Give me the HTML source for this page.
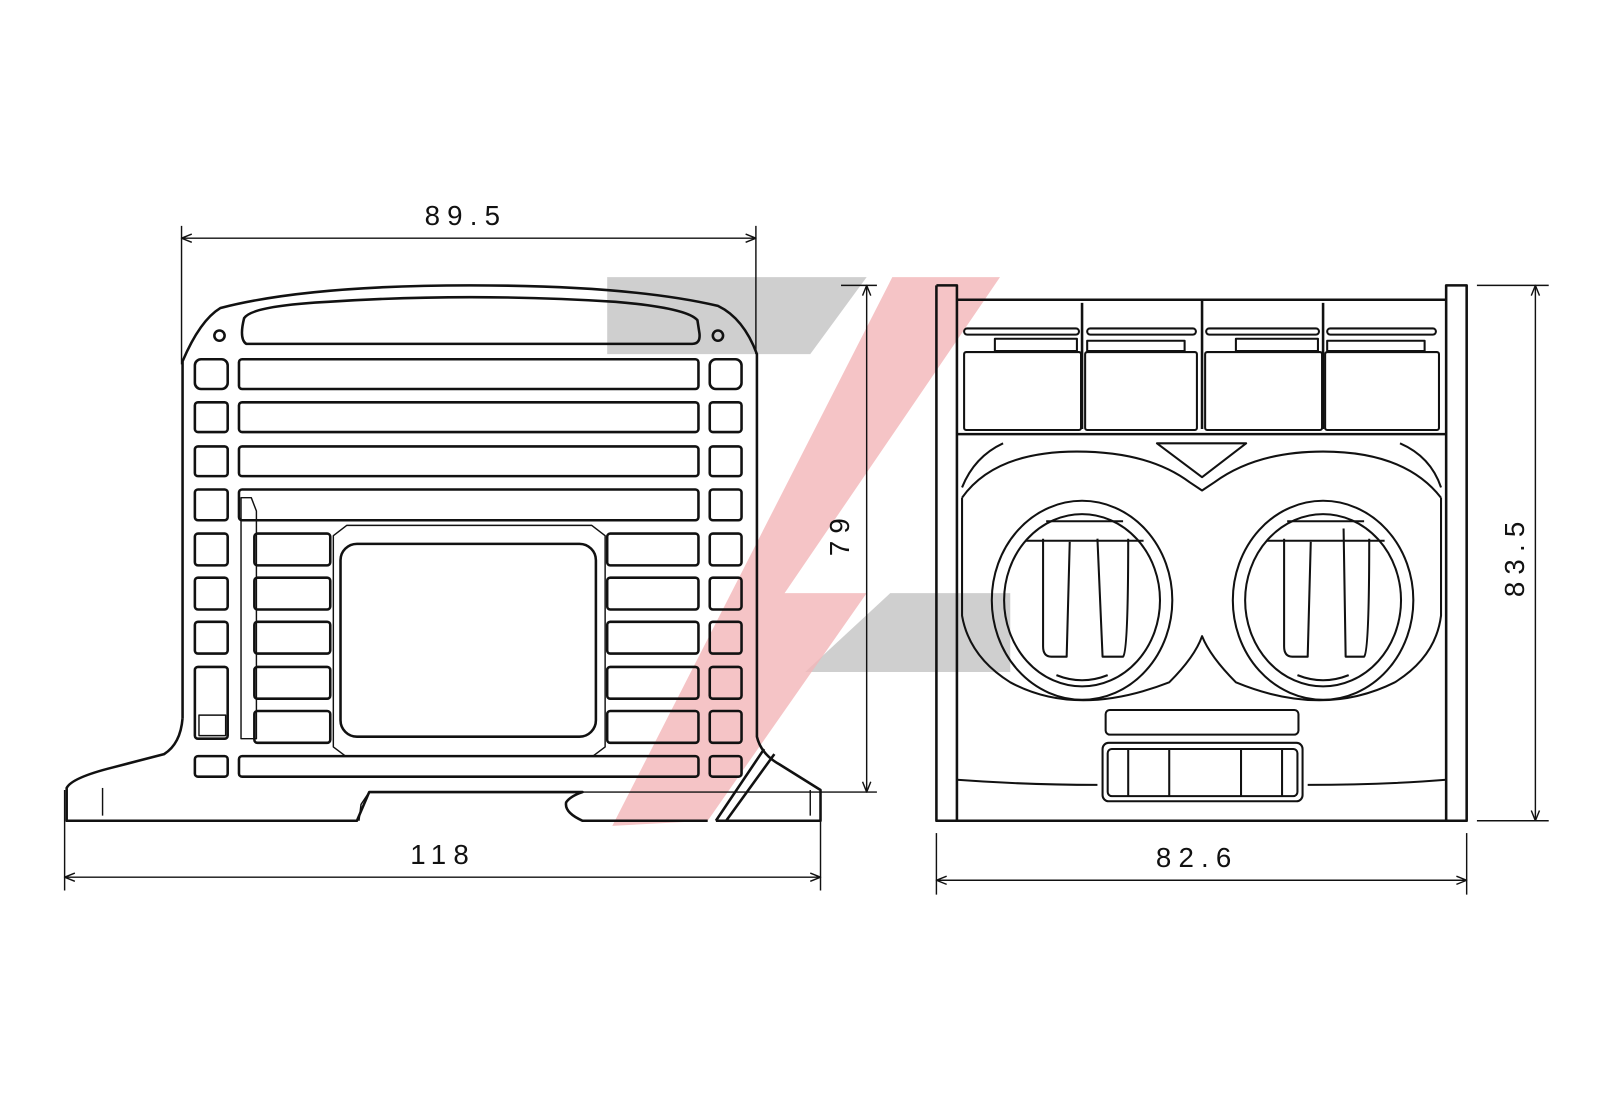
<!DOCTYPE html>
<html><head><meta charset="utf-8"><style>
html,body{margin:0;padding:0;background:#fff;}
svg{display:block;}
text{font-family:"Liberation Sans",sans-serif;font-size:27px;fill:#111;letter-spacing:7px;}
</style></head><body>
<svg width="1600" height="1100" viewBox="0 0 1560 1072" xmlns="http://www.w3.org/2000/svg">
<!-- watermark -->
<polygon points="592,270 845,270 790,345 592,345" fill="#cfcfcf"/>
<polygon points="868,578 985,578 985,655 785,655" fill="#cfcfcf"/>
<polygon points="870,270 975,270 765,578 845,578 690,800 597,805" fill="#f2b5b8" opacity="0.8"/>

<g fill="none" stroke="#111" stroke-width="2.5" stroke-linejoin="round">
<!-- LEFT VIEW dims -->
<g stroke-width="1.4">
<line x1="177" y1="220" x2="177" y2="355"/><line x1="737" y1="220" x2="737" y2="345"/>
<line x1="177" y1="232" x2="737" y2="232"/>
<path d="M187,228 L177,232 L187,236 M727,228 L737,232 L727,236"/>
<line x1="63" y1="770" x2="63" y2="868"/><line x1="800" y1="770" x2="800" y2="868"/>
<line x1="63" y1="855" x2="800" y2="855"/>
<path d="M73,851 L63,855 L73,859 M790,851 L800,855 L790,859"/>
<line x1="820" y1="278" x2="855" y2="278"/><line x1="560" y1="772" x2="855" y2="772"/>
<line x1="845" y1="278" x2="845" y2="772"/>
<path d="M841,288 L845,278 L849,288 M841,762 L845,772 L849,762"/>
</g>
<!-- body outline -->
<path d="M178,700 L178,352 Q195,312 215,300 Q300,278 458,278 Q615,278 700,298 Q725,310 738,345 L738,718 Q742,735 760,745 L800,770 L800,800 L698,800"/>
<path d="M690,800 L568,800 Q550,792 552,782 Q556,776 568,772 L360,772 L348,800 L65,800 L65,768 Q70,758 110,748 L160,735 Q176,725 178,700"/>
<line x1="100" y1="768" x2="100" y2="795" stroke-width="1.4"/>
<line x1="790" y1="770" x2="790" y2="795" stroke-width="1.4"/>
<path d="M745,730 L698,800 M755,735 L708,800"/>
<path d="M360,772 L352,784 L350,800" stroke-width="1.4"/>
<!-- top panel -->
<path d="M240,335 L675,335 Q683,335 682,325 L680,312 Q670,300 600,294 Q458,285 320,294 Q245,298 238,310 Q233,330 240,335 Z"/>
<circle cx="214" cy="327" r="5"/><circle cx="700" cy="327" r="5"/>
<!-- rows -->
<rect x="190" y="350" width="32" height="29" rx="6"/><rect x="233" y="350" width="448" height="29" rx="3"/><rect x="692" y="350" width="31" height="29" rx="6"/>
<rect x="190" y="392" width="32" height="29" rx="3"/><rect x="233" y="392" width="448" height="29" rx="3"/><rect x="692" y="392" width="31" height="29" rx="3"/>
<rect x="190" y="435" width="32" height="29" rx="3"/><rect x="233" y="435" width="448" height="29" rx="3"/><rect x="692" y="435" width="31" height="29" rx="3"/>
<rect x="190" y="477" width="32" height="30" rx="3"/><rect x="233" y="477" width="448" height="30" rx="3"/><rect x="692" y="477" width="31" height="30" rx="3"/>
<rect x="190" y="520" width="32" height="31" rx="3"/><rect x="692" y="520" width="31" height="31" rx="3"/>
<rect x="190" y="563" width="32" height="31" rx="3"/><rect x="692" y="563" width="31" height="31" rx="3"/>
<rect x="190" y="606" width="32" height="31" rx="3"/><rect x="692" y="606" width="31" height="31" rx="3"/>
<rect x="190" y="650" width="32" height="70" rx="3"/><rect x="692" y="650" width="31" height="31" rx="3"/>
<rect x="692" y="693" width="31" height="31" rx="3"/>
<rect x="194" y="697" width="26" height="20" stroke-width="1.4"/>
<rect x="190" y="737" width="32" height="20" rx="3"/><rect x="233" y="737" width="448" height="20" rx="3"/><rect x="692" y="737" width="31" height="20" rx="3"/>
<rect x="248" y="520" width="74" height="31" rx="3"/><rect x="592" y="520" width="89" height="31" rx="3"/>
<rect x="248" y="563" width="74" height="31" rx="3"/><rect x="592" y="563" width="89" height="31" rx="3"/>
<rect x="248" y="606" width="74" height="31" rx="3"/><rect x="592" y="606" width="89" height="31" rx="3"/>
<rect x="248" y="650" width="74" height="31" rx="3"/><rect x="592" y="650" width="89" height="31" rx="3"/>
<rect x="248" y="693" width="74" height="31" rx="3"/><rect x="592" y="693" width="89" height="31" rx="3"/>
<path d="M235,485 L245,485 L250,498 L250,720 L235,720 Z" stroke-width="1.4"/>
<!-- window -->
<rect x="332" y="530" width="249" height="188" rx="16"/>
<path d="M325,522 L338,512 L577,512 L590,522 L590,728 L578,737 L337,737 L325,728 Z" stroke-width="1.4"/>

<!-- RIGHT VIEW -->
<g stroke-width="1.4">
<line x1="913" y1="812" x2="913" y2="872"/><line x1="1430" y1="812" x2="1430" y2="872"/>
<line x1="913" y1="858" x2="1430" y2="858"/>
<path d="M923,854 L913,858 L923,862 M1420,854 L1430,858 L1420,862"/>
<line x1="1440" y1="278" x2="1510" y2="278"/><line x1="1440" y1="800" x2="1510" y2="800"/>
<line x1="1497" y1="278" x2="1497" y2="800"/>
<path d="M1493,288 L1497,278 L1501,288 M1493,790 L1497,800 L1501,790"/>
</g>
<path d="M913,278 L933,278 L933,800 M913,278 L913,800 L1430,800 L1430,278 L1410,278 L1410,800"/>
<line x1="933" y1="292" x2="1410" y2="292"/>
<line x1="1055" y1="295" x2="1055" y2="418"/><line x1="1172" y1="292" x2="1172" y2="418"/><line x1="1290" y1="295" x2="1290" y2="418"/>
<g stroke-width="2">
<rect x="940" y="343" width="114" height="76" rx="2"/><rect x="1058" y="343" width="109" height="76" rx="2"/>
<rect x="1175" y="343" width="114" height="76" rx="2"/><rect x="1292" y="343" width="111" height="76" rx="2"/>
<rect x="940" y="320" width="112" height="6" rx="3"/><rect x="1060" y="320" width="106" height="6" rx="3"/>
<rect x="1176" y="320" width="110" height="6" rx="3"/><rect x="1294" y="320" width="106" height="6" rx="3"/>
<rect x="970" y="330" width="80" height="12"/><rect x="1060" y="332" width="95" height="10"/>
<rect x="1205" y="330" width="80" height="12"/><rect x="1294" y="332" width="95" height="10"/>
</g>
<line x1="933" y1="423" x2="1410" y2="423"/>
<g stroke-width="2">
<path d="M938,475 Q950,445 978,432 M938,485 Q970,440 1050,440 Q1120,440 1160,470 L1172,478 L1184,470 Q1225,440 1290,440 Q1370,440 1405,485"/>
<path d="M1128,432 L1215,432 L1172,465 Z"/>
<path d="M1405,475 Q1395,445 1365,432"/>
<path d="M938,485 L938,600 Q945,640 985,665 Q1050,700 1140,665 Q1165,640 1172,620 Q1180,640 1205,665 Q1290,700 1360,665 Q1400,640 1405,600 L1405,485"/>
<ellipse cx="1055" cy="585" rx="88" ry="97"/><ellipse cx="1055" cy="585" rx="76" ry="84"/>
<ellipse cx="1290" cy="585" rx="88" ry="97"/><ellipse cx="1290" cy="585" rx="76" ry="84"/>
<path d="M1017,525 L1017,630 Q1017,640 1025,640 L1040,640 L1043,528 M1070,525 L1075,640 L1095,640 Q1100,635 1100,525"/>
<path d="M1000,527 L1115,527 M1020,508 L1095,508"/>
<path d="M1252,525 L1252,630 Q1252,640 1260,640 L1275,640 L1278,528 M1310,515 L1312,640 L1330,640 Q1335,635 1335,525"/>
<path d="M1235,527 L1350,527 M1255,508 L1330,508"/>
<path d="M1030,658 Q1055,668 1080,658 M1265,658 Q1290,668 1315,658"/>
<rect x="1078" y="692" width="188" height="24" rx="4"/>
<path d="M933,760 Q1000,765 1070,765 M1275,765 Q1350,765 1410,760"/>
<rect x="1075" y="724" width="195" height="57" rx="6"/>
<rect x="1080" y="730" width="185" height="46" rx="4"/>
<line x1="1100" y1="730" x2="1100" y2="776"/><line x1="1140" y1="730" x2="1140" y2="776"/>
<line x1="1210" y1="730" x2="1210" y2="776"/><line x1="1250" y1="730" x2="1250" y2="776"/>
</g>
</g>
<text x="414" y="219">89.5</text>
<text x="400" y="842">118</text>
<text x="1127" y="845">82.6</text>
<text transform="translate(828,542) rotate(-90)">79</text>
<text transform="translate(1486,582) rotate(-90)">83.5</text>
</svg>
</body></html>
